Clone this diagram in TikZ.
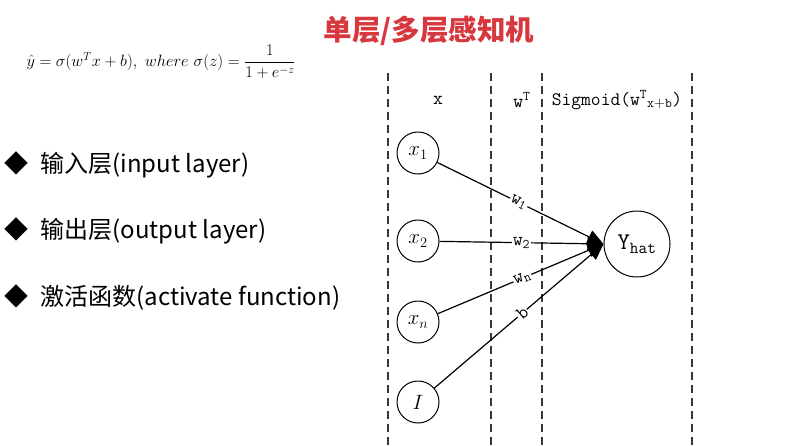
\documentclass[tikz,border=0pt]{standalone}
\usepackage{fontspec}
\usepackage{amsmath}
\usepackage{graphicx}
\usetikzlibrary{arrows.meta}
\newfontfamily\cjk{Noto Sans CJK SC}
\definecolor{titlered}{RGB}{214,56,62}
\definecolor{dashgray}{RGB}{55,55,55}
\tikzset{
  inp/.style={circle, draw, line width=1pt, minimum size=42pt, inner sep=0pt, font=\fontsize{20}{20}\selectfont},
  outp/.style={circle, draw, line width=1pt, minimum size=66pt, inner sep=0pt, font=\fontsize{24}{24}\selectfont\ttfamily},
  edge/.style={line width=1.2pt, -{Triangle[length=16pt,width=14pt]}},
  lab/.style={sloped, fill=white, inner sep=1pt, font=\fontsize{19}{19}\selectfont\ttfamily},
  dashline/.style={line width=2pt, dashgray, dash pattern=on 8pt off 5pt},
  collab/.style={font=\fontsize{19}{19}\selectfont\ttfamily},
  bullet/.style={anchor=west, font=\fontsize{24}{24}\selectfont\cjk},
}
\begin{document}
\begin{tikzpicture}[x=1pt,y=-1pt]
\useasboundingbox (0,0) rectangle (791,445);
% title
\node[font=\fontsize{28.5}{28.5}\selectfont\cjk\bfseries, text=titlered] (title) at (429,31) {单层/多层感知机};
% formula
\node[anchor=west, font=\fontsize{17.28}{19}\selectfont] (formula) at (23,62)
  {\scalebox{0.95}{$\hat{y}=\sigma(w^Tx+b),\ where\ \sigma(z)=\dfrac{1}{1+e^{-z}}$}};
% bullets
\node[bullet] (b1) at (1,165) {◆\hspace{12pt}输入层(input layer)};
\node[bullet] (b2) at (1,231) {◆\hspace{12pt}输出层(output layer)};
\node[bullet] (b3) at (1,297) {◆\hspace{12pt}激活函数(activate function)};
% dashed column separators
\draw[dashline] (388,73) -- (388,445);
\draw[dashline] (491,73) -- (491,445);
\draw[dashline] (542,73) -- (542,445);
\draw[dashline] (692,73) -- (692,445);
% column labels
\node[collab] (cx) at (438,100) {x};
\node[collab] (cw) at (522,100) {w$^{\mathtt{T}}$};
\node[collab] (cs) at (617,100) {Sigmoid(w$^{\mathtt{T}}$$_{\mathtt{x+b}}$)};
% neurons
\node[inp] (x1) at (418,153) {$x_1$};
\node[inp] (x2) at (418,241) {$x_2$};
\node[inp] (xn) at (418,322) {$x_n$};
\node[inp] (one) at (418,402) {$I$};
\node[outp] (y) at (637,244) {Y$_{\mathtt{hat}}$};
% connections
\draw[edge] (x1) -- (y.west) node[lab, pos=0.49] {w$_{\mathtt{1}}$};
\draw[edge] (x2) -- (y.west) node[lab, pos=0.5] {w$_{\mathtt{2}}$};
\draw[edge] (xn) -- (y.west) node[lab, pos=0.51] {w$_{\mathtt{n}}$};
\draw[edge] (one) -- (y.west) node[lab, pos=0.52] {b};
\end{tikzpicture}
\end{document}
